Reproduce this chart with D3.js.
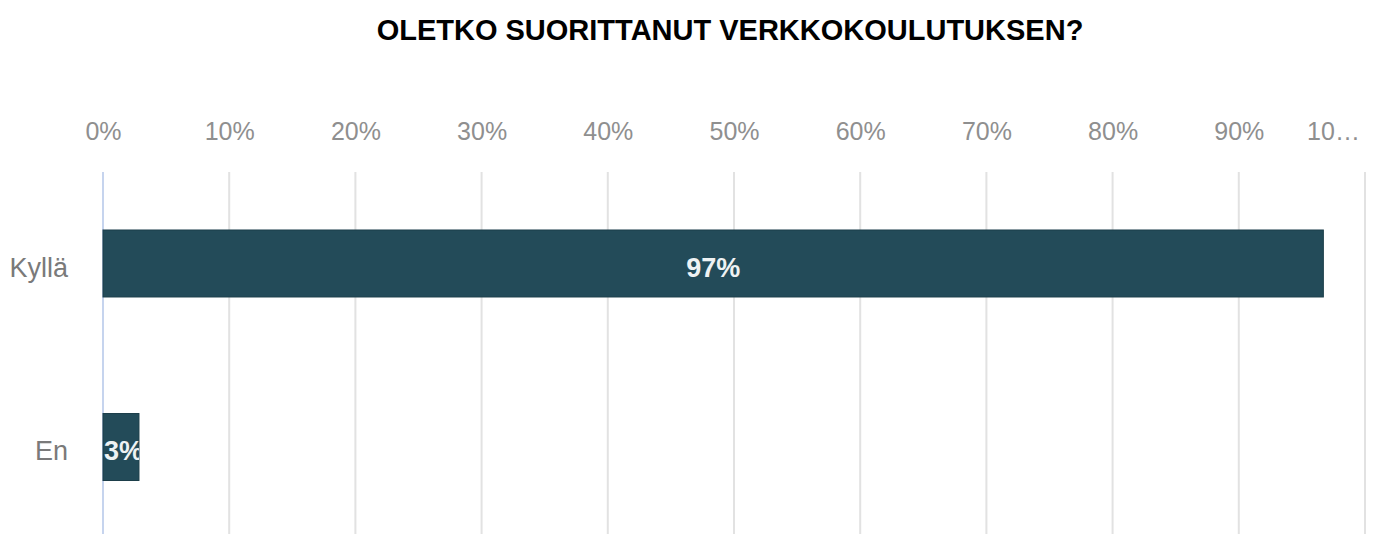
<!DOCTYPE html>
<html>
<head>
<meta charset="utf-8">
<script src="https://cdn.jsdelivr.net/npm/d3@7"></script>
<style>
  body { margin: 0; background: #fff; }
  svg { display: block; font-family: Arial, "Liberation Sans", sans-serif; }
</style>
</head>
<body>
<div id="chart"></div>
<script>
const title = "OLETKO SUORITTANUT VERKKOKOULUTUKSEN?";
const categories = ["Kyllä", "En"];
const values = [96.7, 2.85];
const valueLabels = ["97%", "3%"];
const ticks = [0, 10, 20, 30, 40, 50, 60, 70, 80, 90, 100];
const tickLabels = ["0%", "10%", "20%", "30%", "40%", "50%", "60%", "70%", "80%", "90%", "10…"];

const width = 1380, height = 534;

const svg = d3.select("#chart").append("svg")
  .attr("width", width)
  .attr("height", height);

const x = d3.scaleLinear().domain([0, 100]).range([103, 1365]);
const y = d3.scaleBand().domain(categories).range([172, 538.5])
  .paddingInner(0.635).paddingOuter(0.316);

svg.append("text")
  .attr("x", 730).attr("y", 40)
  .attr("text-anchor", "middle")
  .attr("font-weight", "bold")
  .attr("font-size", 29)
  .attr("fill", "#000")
  .text(title);

// gridlines
svg.append("g").selectAll("line")
  .data(ticks)
  .join("line")
  .attr("x1", d => x(d)).attr("x2", d => x(d))
  .attr("y1", 172).attr("y2", height)
  .attr("stroke", d => d === 0 ? "#c6d4ee" : "#e2e2e2")
  .attr("stroke-width", 2);

// top axis labels
const axis = svg.append("g")
  .attr("transform", "translate(0,140)")
  .call(d3.axisTop(x).tickValues(ticks).tickSize(0).tickPadding(0)
    .tickFormat((d, i) => tickLabels[i]));
axis.select(".domain").remove();
axis.selectAll("text")
  .attr("font-size", 25)
  .attr("font-family", "Arial, 'Liberation Sans', sans-serif")
  .attr("fill", "#8f8f8f")
  .attr("dy", 0)
  .attr("dx", d => d === 100 ? -32 : 0);

// category labels
svg.append("g").selectAll("text")
  .data(categories)
  .join("text")
  .attr("x", 68)
  .attr("y", d => y(d) + y.bandwidth() / 2 + 4)
  .attr("dy", "0.35em")
  .attr("text-anchor", "end")
  .attr("font-size", 27)
  .attr("fill", "#7a7a7a")
  .text(d => d);

const clip = svg.append("defs");
categories.forEach((c, i) => {
  clip.append("clipPath").attr("id", "clip" + i)
    .append("rect")
    .attr("x", x(0)).attr("y", y(c))
    .attr("width", x(values[i]) - x(0)).attr("height", y.bandwidth());
});

// bars
svg.append("g").selectAll("rect")
  .data(categories)
  .join("rect")
  .attr("x", x(0))
  .attr("y", d => y(d))
  .attr("width", (d, i) => x(values[i]) - x(0))
  .attr("height", y.bandwidth())
  .attr("fill", "#234b59")
  .attr("stroke", "#1c3e4a")
  .attr("stroke-width", 1);

// value labels
svg.append("g").selectAll("text")
  .data(categories)
  .join("text")
  .attr("clip-path", (d, i) => `url(#clip${i})`)
  .attr("x", (d, i) => i === 0 ? (x(0) + x(values[i])) / 2 : x(0) + 1)
  .attr("y", d => y(d) + y.bandwidth() / 2 + 4)
  .attr("dy", "0.35em")
  .attr("text-anchor", (d, i) => i === 0 ? "middle" : "start")
  .attr("font-size", 27)
  .attr("font-weight", "bold")
  .attr("fill", "#eef2f3")
  .text((d, i) => valueLabels[i]);
</script>
</body>
</html>
